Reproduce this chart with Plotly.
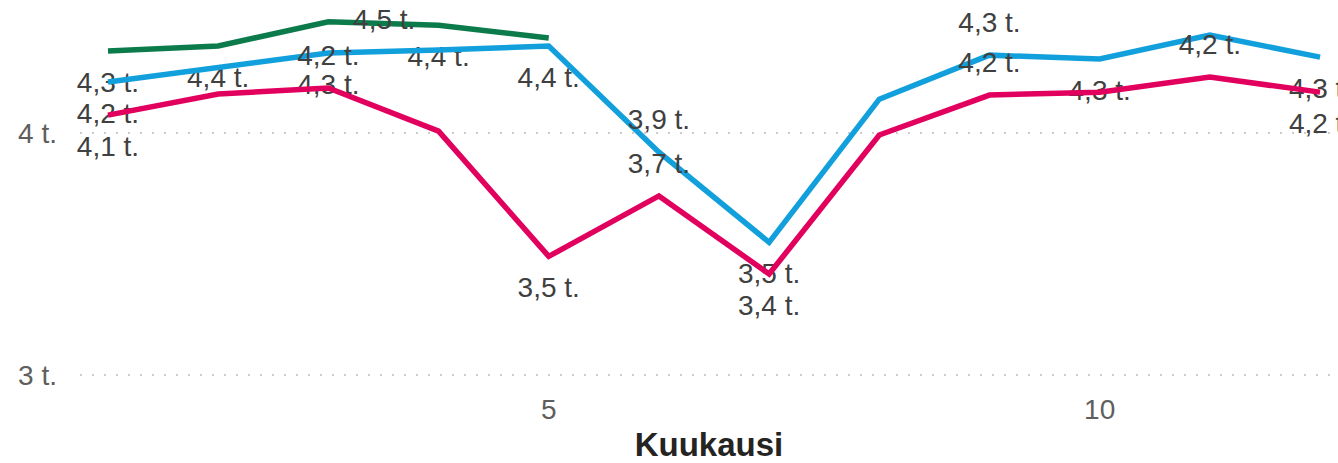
import plotly.graph_objects as go

# ---- data (values in thousands, "t." = tuhatta) ----
months = list(range(1, 13))
green_months = [1, 2, 3, 4, 5]
green_vals = [4.339, 4.36, 4.46, 4.446, 4.393]
blue_vals = [4.211, 4.269, 4.331, 4.343, 4.36, 3.921, 3.548, 4.140, 4.322, 4.306, 4.405, 4.314]
pink_vals = [4.074, 4.161, 4.186, 4.008, 3.49, 3.740, 3.417, 3.992, 4.157, 4.169, 4.231, 4.169]
y_tick_vals = [3, 4]
y_tick_text = ["3 t.", "4 t."]
x_title = "Kuukausi"

# ---- which data labels are visible, and where (style) ----
green_lbl_pos = ["bottom center", "bottom center", "middle right", "bottom center", None]
blue_lbl_pos = ["bottom center", None, "bottom center", None, "bottom center", "top center",
                "bottom center", None, "top center", "bottom center", None, "bottom center"]
pink_lbl_pos = ["bottom center", None, "top center", None, "bottom center", "top center",
                "bottom center", None, "top center", None, "top center", "bottom center"]

GREEN = "#0C7B4C"
BLUE = "#12A0DC"
PINK = "#E2005E"
LABEL_FONT = dict(family="Liberation Sans, Arial, sans-serif", size=28, color="#404040")
SIZE_FOR = {"bottom center": 30, "top center": 24, "middle right": 38}


def fmt(v):
    return ("%.1f" % v).replace(".", ",") + " t."


fig = go.Figure()


def add_series(xs, ys, color, positions):
    fig.add_trace(go.Scatter(x=xs, y=ys, mode="lines",
                             line=dict(color=color, width=5.5),
                             hoverinfo="skip", showlegend=False))
    text = [fmt(v) if p else "" for v, p in zip(ys, positions)]
    tpos = [p if p else "bottom center" for p in positions]
    sizes = [SIZE_FOR[p] if p else 1 for p in positions]
    fig.add_trace(go.Scatter(x=xs, y=ys, mode="markers+text", text=text,
                             textposition=tpos, textfont=LABEL_FONT,
                             marker=dict(size=sizes, opacity=0),
                             cliponaxis=False, hoverinfo="skip", showlegend=False))


add_series(green_months, green_vals, GREEN, green_lbl_pos)
add_series(months, blue_vals, BLUE, blue_lbl_pos)
add_series(months, pink_vals, PINK, pink_lbl_pos)

fig.update_layout(
    width=1338, height=463,
    margin=dict(l=80, r=0, t=0, b=84),
    paper_bgcolor="white", plot_bgcolor="white",
    font=dict(family="Liberation Sans, Arial, sans-serif"),
    xaxis=dict(range=[0.746, 12.163], tickvals=[5, 10], showgrid=False, zeroline=False,
               showline=False, ticks="", automargin=False,
               tickfont=dict(size=28, color="#605E5C"), ticklabelstandoff=11,
               title=dict(text="<b>" + x_title + "</b>", standoff=17,
                          font=dict(size=33, color="#252423"))),
    yaxis=dict(range=[2.983, 4.55], tickvals=y_tick_vals, ticktext=y_tick_text,
               showgrid=True, gridcolor="#CFCDCB", gridwidth=2, griddash="2px,10px",
               zeroline=False, showline=False, ticks="", automargin=False,
               tickfont=dict(size=28, color="#605E5C"), ticklabelstandoff=22),
)

fig.write_html("out.html", config={"displayModeBar": False},
               post_script="document.body.style.margin='0';document.body.style.overflow='hidden';")
